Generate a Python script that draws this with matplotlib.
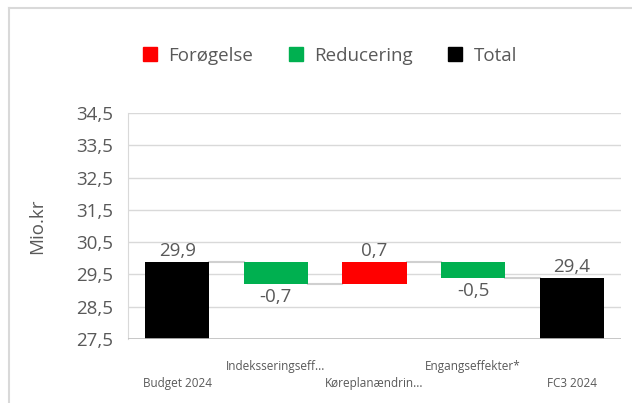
import matplotlib
matplotlib.use("Agg")
import matplotlib.pyplot as plt
from matplotlib.lines import Line2D
from matplotlib.patches import Patch
from matplotlib.ticker import FuncFormatter, FixedLocator

plt.rcParams['font.family'] = ['Open Sans', 'DejaVu Sans']

# data
kategorier = ["Budget 2024", "Indeksseringseff...", "Køreplanændrin...",
              "Engangseffekter*", "FC3 2024"]
vaerdier = [29.9, -0.7, 0.7, -0.5, 29.4]
typer = ["total", "ned", "op", "ned", "total"]
y_ticks = [27.5, 28.5, 29.5, 30.5, 31.5, 32.5, 33.5, 34.5]

farver = {"op": "#FF0000", "ned": "#00B050", "total": "#000000"}
graa_tekst = "#595959"

fig = plt.figure(figsize=(6.32, 4.03), dpi=100)
ax = fig.add_axes([0.2025, 0.1588, 0.7801, 0.5608])

# waterfall
bund = []
top = []
niveau = 0
for v, t in zip(vaerdier, typer):
    if t == "total":
        bund.append(0)
        top.append(v)
        niveau = v
    else:
        ny = niveau + v
        bund.append(min(niveau, ny))
        top.append(max(niveau, ny))
        niveau = ny

x = list(range(len(kategorier)))
bredde = 0.65
for i in x:
    ax.bar(i, top[i] - bund[i], bottom=bund[i], width=bredde,
           color=farver[typer[i]], zorder=3)

# forbindelseslinjer
niveau = 0
for i in range(len(x) - 1):
    if typer[i] == "total":
        niveau = vaerdier[i]
    else:
        niveau = niveau + vaerdier[i]
    ax.plot([i + bredde / 2, i + 1 - bredde / 2], [niveau, niveau],
            color="#d0d0d0", lw=1.5, zorder=2)

# dataetiketter
for i in x:
    tekst = f"{vaerdier[i]:.1f}".replace(".", ",")
    if typer[i] == "ned":
        ax.annotate(tekst, (i, bund[i]), xytext=(0, -3), textcoords="offset points",
                    ha="center", va="top", fontsize=13.5, color=graa_tekst)
    else:
        ax.annotate(tekst, (i, top[i]), xytext=(0, 1), textcoords="offset points",
                    ha="center", va="bottom", fontsize=13.5, color=graa_tekst)

# kategorier i to rækker
for i in x:
    ypos = -0.195 if i % 2 == 0 else -0.12
    ax.text(i, ypos, kategorier[i], transform=ax.get_xaxis_transform(),
            ha="center", va="center", fontsize=8.5, color=graa_tekst)

ax.set_xlim(-0.5, len(x) - 0.5)
ax.set_ylim(27.5, 34.5)
ax.yaxis.set_major_locator(FixedLocator(y_ticks))
ax.yaxis.set_major_formatter(FuncFormatter(lambda v, p: f"{v:.1f}".replace(".", ",")))
ax.set_xticks([])
ax.tick_params(axis="y", length=0, labelsize=13.5, labelcolor=graa_tekst, pad=11)
ax.grid(axis="y", color="#d9d9d9", lw=1, zorder=0)
ax.set_axisbelow(True)
for s in ["top", "right", "bottom"]:
    ax.spines[s].set_visible(False)
ax.spines["left"].set_color("#d9d9d9")
ax.axhline(27.5, color="#bfbfbf", lw=1.2, zorder=4)

ax.set_ylabel("Mio.kr", fontsize=13.5, color=graa_tekst)
ax.yaxis.set_label_coords(-0.167, 0.5)

# legende
handles = [Patch(color=farver["op"], label="Forøgelse"),
           Patch(color=farver["ned"], label="Reducering"),
           Patch(color=farver["total"], label="Total")]
fig.legend(handles=handles, loc="center", bbox_to_anchor=(0.522, 0.862), ncol=3,
           frameon=False, fontsize=13.5, handlelength=0.75, handleheight=0.75,
           handletextpad=0.6, columnspacing=1.9, labelcolor=graa_tekst)

# ramme
fig.add_artist(Line2D([0.014, 1.0], [0.979, 0.979], transform=fig.transFigure,
                      color="#d9d9d9", lw=1.5))
fig.add_artist(Line2D([0.014, 0.014], [0.0, 0.979], transform=fig.transFigure,
                      color="#d9d9d9", lw=1.5))

fig.savefig("out.png", dpi=100)
